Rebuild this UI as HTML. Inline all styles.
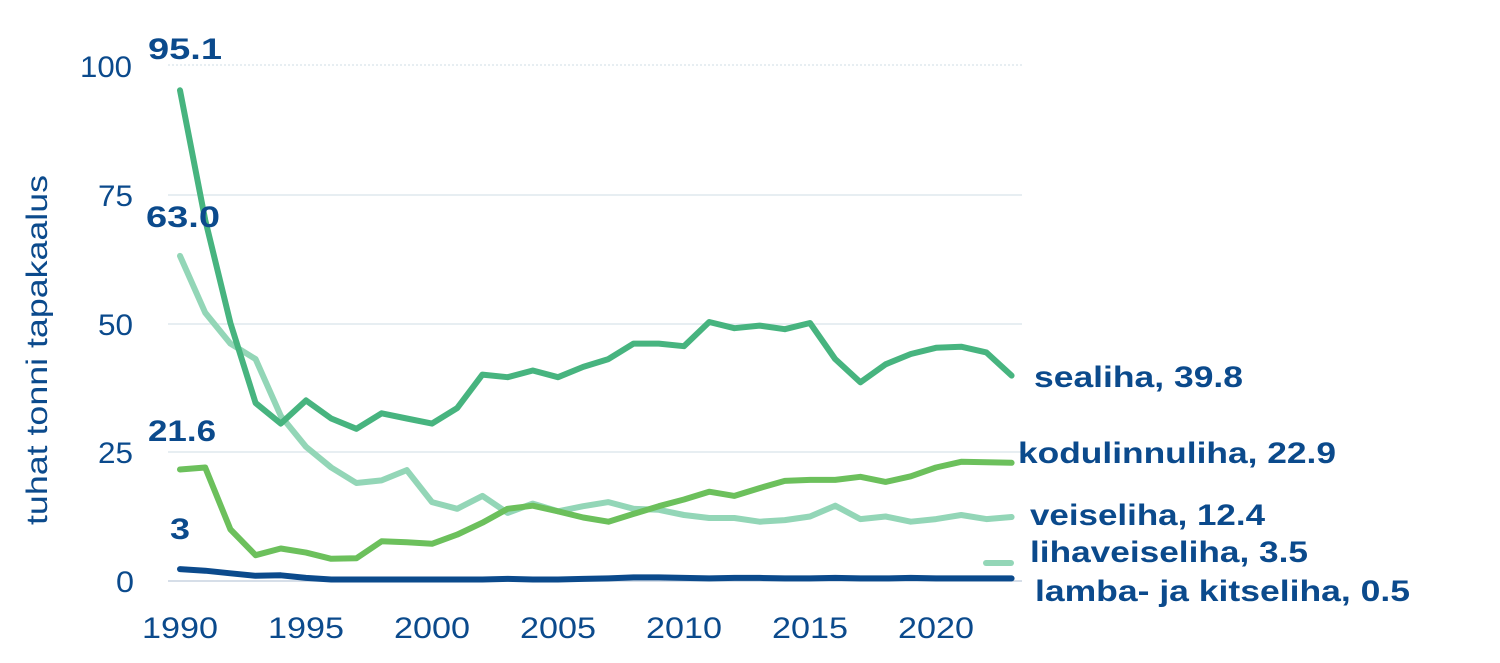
<!DOCTYPE html>
<html><head><meta charset="utf-8"><style>
html,body{margin:0;padding:0;background:#fff;}
svg{display:block;}
text{font-family:"Liberation Sans",sans-serif;fill:#0b4a8c;}
</style></head><body>
<svg width="1500" height="663" viewBox="0 0 1500 663" xmlns="http://www.w3.org/2000/svg">
<g stroke="#dfe8ee" stroke-width="1.5">
<line x1="168" y1="65" x2="1022" y2="65" stroke-dasharray="2 2"/>
<line x1="168" y1="195" x2="1022" y2="195"/>
<line x1="168" y1="324" x2="1022" y2="324"/>
<line x1="168" y1="452" x2="1022" y2="452"/>
<line x1="168" y1="581" x2="1022" y2="581" stroke="#c8d4e0"/>
</g>
<g font-size="30" lengthAdjust="spacingAndGlyphs">
<text x="80" y="77" textLength="52" lengthAdjust="spacingAndGlyphs">100</text>
<text x="98" y="206" textLength="35" lengthAdjust="spacingAndGlyphs">75</text>
<text x="98" y="335" textLength="35" lengthAdjust="spacingAndGlyphs">50</text>
<text x="98" y="463" textLength="35" lengthAdjust="spacingAndGlyphs">25</text>
<text x="116" y="592" textLength="18" lengthAdjust="spacingAndGlyphs">0</text>
</g>
<g font-size="30">
<text x="142" y="638" textLength="76" lengthAdjust="spacingAndGlyphs">1990</text>
<text x="268" y="638" textLength="76" lengthAdjust="spacingAndGlyphs">1995</text>
<text x="394" y="638" textLength="76" lengthAdjust="spacingAndGlyphs">2000</text>
<text x="520" y="638" textLength="76" lengthAdjust="spacingAndGlyphs">2005</text>
<text x="646" y="638" textLength="76" lengthAdjust="spacingAndGlyphs">2010</text>
<text x="772" y="638" textLength="76" lengthAdjust="spacingAndGlyphs">2015</text>
<text x="898" y="638" textLength="76" lengthAdjust="spacingAndGlyphs">2020</text>
</g>
<text font-size="30" transform="translate(47,525) rotate(-90)" textLength="350" lengthAdjust="spacingAndGlyphs">tuhat tonni tapakaalus</text>
<g fill="none" stroke-width="6" stroke-linecap="round" stroke-linejoin="round">
<polyline id="vei" stroke="#93d6b7" points=""/>
<polyline id="kod" stroke="#6cc05c" points=""/>
<polyline id="sea" stroke="#47b47f" points=""/>
<polyline id="lam" stroke="#0b4a8c" points=""/>
<line x1="986" y1="563" x2="1011" y2="563" stroke="#93d6b7"/>
</g>
<g font-size="30" font-weight="bold">
<text x="148" y="59" textLength="74" lengthAdjust="spacingAndGlyphs">95.1</text>
<text x="146" y="227" textLength="74" lengthAdjust="spacingAndGlyphs">63.0</text>
<text x="148" y="441" textLength="68" lengthAdjust="spacingAndGlyphs">21.6</text>
<text x="170" y="539" textLength="20" lengthAdjust="spacingAndGlyphs">3</text>
<text x="1034" y="387" textLength="209" lengthAdjust="spacingAndGlyphs">sealiha, 39.8</text>
<text x="1018" y="463" textLength="318" lengthAdjust="spacingAndGlyphs">kodulinnuliha, 22.9</text>
<text x="1030" y="525" textLength="235" lengthAdjust="spacingAndGlyphs">veiseliha, 12.4</text>
<text x="1030" y="562" textLength="278" lengthAdjust="spacingAndGlyphs">lihaveiseliha, 3.5</text>
<text x="1035" y="601" textLength="375" lengthAdjust="spacingAndGlyphs">lamba- ja kitseliha, 0.5</text>
</g>
<script>
function pts(d){return d.map(function(v,i){return (180+i*25.2).toFixed(1)+","+(581-v*5.16).toFixed(1);}).join(" ");}
var sea=[95.1,70,50,34.5,30.5,35,31.5,29.5,32.5,31.5,30.5,33.5,40,39.5,40.8,39.5,41.5,43,46,46,45.5,50.2,49,49.5,48.8,50,43,38.5,42,44,45.2,45.4,44.3,39.8];
var vei=[63,52,46,43,32,26,22,19,19.5,21.5,15.3,14,16.5,13.2,15,13.5,14.5,15.3,14,13.8,12.8,12.2,12.2,11.5,11.8,12.5,14.6,12,12.5,11.5,12,12.8,12,12.4];
var kod=[21.6,22,10,5,6.3,5.5,4.3,4.4,7.7,7.5,7.2,9,11.3,14,14.6,13.5,12.3,11.5,13,14.5,15.8,17.3,16.5,18,19.4,19.6,19.6,20.2,19.2,20.3,22,23.1,23,22.9];
var lam=[2.3,2,1.5,1,1.1,0.6,0.3,0.3,0.3,0.3,0.3,0.3,0.3,0.4,0.3,0.3,0.4,0.5,0.7,0.7,0.6,0.5,0.6,0.6,0.5,0.5,0.6,0.5,0.5,0.6,0.5,0.5,0.5,0.5];
document.getElementById('sea').setAttribute('points',pts(sea));
document.getElementById('vei').setAttribute('points',pts(vei));
document.getElementById('kod').setAttribute('points',pts(kod));
document.getElementById('lam').setAttribute('points',pts(lam));
</script>
</svg>
</body></html>
